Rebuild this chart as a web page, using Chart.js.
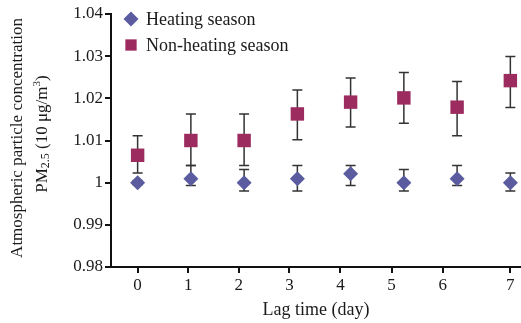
<!DOCTYPE html>
<html>
<head>
<meta charset="utf-8">
<script src="https://cdn.jsdelivr.net/npm/chart.js@4/dist/chart.umd.min.js"></script>
<style>
    html, body { margin: 0; padding: 0; background: #fff; }
    #wrap { width: 521px; height: 323px; }
</style>
</head>
<body>
<div id="wrap"><canvas id="mainChart" width="521" height="323"></canvas></div>
<script>
// Lag days and where the figure puts its x tick marks
const lagDays = [0, 1, 2, 3, 4, 5, 6, 7];
const xTickPos = [0, 0.95, 1.9, 2.85, 3.81, 4.77, 5.73, 7];
const xTickLabels = ['0', '1', '2', '3', '4', '5', '6', '7'];
const yTickValues = [0.98, 0.99, 1.00, 1.01, 1.02, 1.03, 1.04];

// Heating season
const heating = [1.000, 1.0009, 1.000, 1.0009, 1.0021, 1.000, 1.0009, 1.000];
const heatingUpper = [1.0005, 1.0041, 1.0031, 1.0041, 1.0041, 1.0031, 1.0041, 1.0023];
const heatingLower = [0.9995, 0.9993, 0.998, 0.998, 0.9993, 0.998, 0.9993, 0.998];

// Non-heating season
const nonHeating = [1.0065, 1.010, 1.010, 1.0163, 1.0191, 1.0201, 1.0179, 1.0242];
const nonHeatingUpper = [1.0111, 1.0163, 1.0163, 1.022, 1.0248, 1.0261, 1.024, 1.0299];
const nonHeatingLower = [1.0023, 1.0041, 1.0041, 1.0102, 1.0132, 1.0141, 1.0111, 1.0178];

const FONT = '"Liberation Serif", "Times New Roman", serif';
const TEXT = '#1a1a1a';
const HEAT_COLOR = '#5b5c9f';
const NONHEAT_COLOR = '#9c2b5f';

// Error bars drawn behind the markers
const errorBars = {
    id: 'errorBars',
    beforeDatasetsDraw(chart) {
        const { ctx, scales: { x, y } } = chart;
        ctx.save();
        ctx.strokeStyle = '#333';
        ctx.lineWidth = 1.5;
        chart.data.datasets.forEach(ds => {
            ds.data.forEach((pt, i) => {
                const px = x.getPixelForValue(pt.x);
                const top = y.getPixelForValue(ds.upper[i]);
                const bot = y.getPixelForValue(ds.lower[i]);
                ctx.beginPath();
                ctx.moveTo(px, top); ctx.lineTo(px, bot);
                ctx.moveTo(px - 5, top); ctx.lineTo(px + 5, top);
                ctx.moveTo(px - 5, bot); ctx.lineTo(px + 5, bot);
                ctx.stroke();
            });
        });
        ctx.restore();
    }
};

// Legend inside the plot and the two-line y title with sub/superscripts
const decorations = {
    id: 'decorations',
    afterDraw(chart) {
        const ctx = chart.ctx;
        ctx.save();

        // legend
        ctx.font = '18px ' + FONT;
        ctx.textBaseline = 'middle';
        ctx.textAlign = 'left';
        const lx = 131;
        const rows = [
            { y: 19, label: 'Heating season', style: 'rectRot', color: HEAT_COLOR, r: 7.5 },
            { y: 45, label: 'Non-heating season', style: 'rect', color: NONHEAT_COLOR, r: 8 }
        ];
        rows.forEach(row => {
            ctx.fillStyle = row.color;
            ctx.strokeStyle = row.color;
            Chart.helpers.drawPoint(ctx, { pointStyle: row.style, radius: row.r, borderWidth: 0, rotation: 0 }, lx, row.y);
            ctx.fillStyle = TEXT;
            ctx.fillText(row.label, 146, row.y + 1);
        });

        // y title, first line
        ctx.save();
        ctx.translate(18, 138);
        ctx.rotate(-Math.PI / 2);
        ctx.textAlign = 'center';
        ctx.fillStyle = TEXT;
        ctx.font = '17px ' + FONT;
        ctx.fillText('Atmospheric particle concentration', 0, 0);
        ctx.restore();

        // y title, second line
        ctx.save();
        ctx.translate(43, 134);
        ctx.rotate(-Math.PI / 2);
        ctx.fillStyle = TEXT;
        const parts = [
            { t: 'PM', size: 17, dy: 0 },
            { t: '2.5', size: 12, dy: 3 },
            { t: ' (10 \u03bcg/m', size: 17, dy: 0 },
            { t: '3', size: 11, dy: -6 },
            { t: ')', size: 17, dy: 0 }
        ];
        let total = 0;
        parts.forEach(p => { ctx.font = p.size + 'px ' + FONT; p.w = ctx.measureText(p.t).width; total += p.w; });
        let cx = -total / 2;
        ctx.textAlign = 'left';
        parts.forEach(p => {
            ctx.font = p.size + 'px ' + FONT;
            ctx.fillText(p.t, cx, p.dy);
            cx += p.w;
        });
        ctx.restore();

        ctx.restore();
    }
};

const ctx = document.getElementById('mainChart').getContext('2d');

new Chart(ctx, {
    type: 'scatter',
    data: {
        datasets: [
            {
                label: 'Heating season',
                data: lagDays.map((d, i) => ({ x: d, y: heating[i] })),
                upper: heatingUpper,
                lower: heatingLower,
                pointStyle: 'rectRot',
                pointRadius: 7.5,
                pointHoverRadius: 7.5,
                backgroundColor: HEAT_COLOR,
                borderColor: HEAT_COLOR,
                borderWidth: 0
            },
            {
                label: 'Non-heating season',
                data: lagDays.map((d, i) => ({ x: d, y: nonHeating[i] })),
                upper: nonHeatingUpper,
                lower: nonHeatingLower,
                pointStyle: 'rect',
                pointRadius: 9.5,
                pointHoverRadius: 9.5,
                backgroundColor: NONHEAT_COLOR,
                borderColor: NONHEAT_COLOR,
                borderWidth: 0
            }
        ]
    },
    options: {
        responsive: false,
        animation: false,
        devicePixelRatio: 1,
        layout: { autoPadding: false, padding: { top: 14, right: 0, bottom: 0, left: 0 } },
        plugins: {
            legend: { display: false },
            tooltip: { enabled: false }
        },
        scales: {
            x: {
                type: 'linear',
                min: -0.5,
                max: 7.2,
                afterBuildTicks: scale => {
                    scale.ticks = xTickPos.map(v => ({ value: v }));
                },
                afterFit: scale => { scale.height = 56; },
                grid: { drawOnChartArea: false, drawTicks: true, tickLength: 6, color: '#111', lineWidth: 2 },
                border: { display: true, color: '#111', width: 2 },
                ticks: {
                    autoSkip: false,
                    maxRotation: 0,
                    padding: 2,
                    color: TEXT,
                    font: { family: FONT, size: 17 },
                    callback: (value, index) => xTickLabels[index]
                },
                title: {
                    display: true,
                    text: 'Lag time (day)',
                    color: TEXT,
                    font: { family: FONT, size: 18 },
                    padding: { top: 0, bottom: 2 }
                }
            },
            y: {
                min: 0.98,
                max: 1.04,
                afterBuildTicks: scale => {
                    scale.ticks = yTickValues.map(v => ({ value: v }));
                },
                afterFit: scale => { scale.width = 111; },
                grid: { drawOnChartArea: false, drawTicks: true, tickLength: 6, color: '#111', lineWidth: 2 },
                border: { display: true, color: '#111', width: 2 },
                ticks: {
                    padding: 2,
                    color: TEXT,
                    font: { family: FONT, size: 17 },
                    callback: value => String(Number(value.toFixed(2)))
                }
            }
        }
    },
    plugins: [errorBars, decorations]
});
</script>
</body>
</html>
